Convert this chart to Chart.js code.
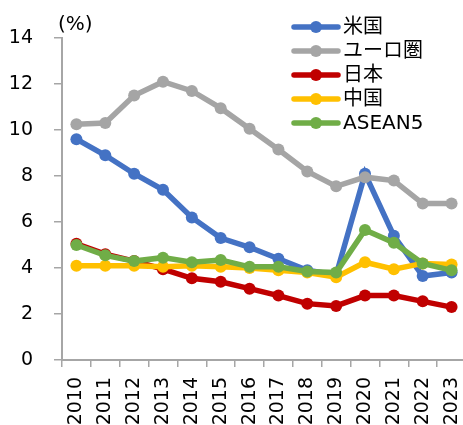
<!DOCTYPE html>
<html>
<head>
<meta charset="utf-8">
<script src="https://cdn.jsdelivr.net/npm/chart.js@4"></script>
<style>
html,body{margin:0;padding:0;background:#fff;overflow:hidden;}
canvas{display:block;}
</style>
</head>
<body>
<canvas id="c" width="466" height="425"></canvas>
<script>
const years = ['2010','2011','2012','2013','2014','2015','2016','2017','2018','2019','2020','2021','2022','2023'];
const seriesNames = ['米国','ユーロ圏','日本','中国','ASEAN5'];
const us    = [9.6, 8.9, 8.1, 7.4, 6.2, 5.3, 4.9, 4.4, 3.9, 3.7, 8.1, 5.4, 3.65, 3.8];
const euro  = [10.25, 10.3, 11.5, 12.1, 11.7, 10.95, 10.05, 9.15, 8.2, 7.55, 7.95, 7.8, 6.8, 6.8];
const japan = [5.05, 4.6, 4.3, 3.95, 3.55, 3.4, 3.1, 2.8, 2.45, 2.35, 2.8, 2.8, 2.55, 2.3];
const china = [4.1, 4.1, 4.1, 4.05, 4.1, 4.05, 4.0, 3.9, 3.8, 3.6, 4.25, 3.95, 4.2, 4.15];
const asean = [5.0, 4.55, 4.3, 4.45, 4.25, 4.35, 4.05, 4.05, 3.85, 3.8, 5.65, 5.1, 4.2, 3.9];
const yTicks = [0, 2, 4, 6, 8, 10, 12, 14];
const unitLabel = '(%)';

const colors = ['#4472C4', '#A5A5A5', '#C00000', '#FFC000', '#70AD47'];
const values = [us, euro, japan, china, asean];
const FONT = '"DejaVu Sans", "Noto Sans CJK JP", sans-serif';
const axisColor = '#A6A6A6';

const datasets = values.map((v, i) => ({
  label: seriesNames[i],
  data: v,
  borderColor: colors[i],
  backgroundColor: colors[i],
  borderWidth: 5.5,
  pointRadius: 6,
  pointBorderWidth: 0,
  pointBackgroundColor: colors[i],
  tension: 0,
  clip: false,
  order: values.length - 1 - i
}));

const legendPlugin = {
  id: 'customLegend',
  afterDraw(chart) {
    const ctx = chart.ctx;
    ctx.save();
    chart.data.datasets.forEach((ds, i) => {
      const y = 27 + i * 24;
      ctx.strokeStyle = ds.borderColor;
      ctx.lineWidth = 5.5;
      ctx.lineCap = 'round';
      ctx.beginPath();
      ctx.moveTo(294, y);
      ctx.lineTo(338, y);
      ctx.stroke();
      ctx.fillStyle = ds.borderColor;
      ctx.beginPath();
      ctx.arc(316, y, 6, 0, Math.PI * 2);
      ctx.fill();
      ctx.fillStyle = '#000';
      ctx.font = '20px ' + FONT;
      ctx.textBaseline = 'middle';
      ctx.textAlign = 'left';
      ctx.fillText(ds.label, 343, y + 1);
    });
    ctx.font = '20px ' + FONT;
    ctx.fillStyle = '#000';
    ctx.textBaseline = 'middle';
    ctx.textAlign = 'left';
    ctx.fillText(unitLabel, 58, 25);
    ctx.restore();
  }
};

new Chart(document.getElementById('c'), {
  type: 'line',
  data: { labels: years, datasets },
  options: {
    responsive: false,
    animation: false,
    devicePixelRatio: 1,
    layout: { autoPadding: false, padding: { top: 38, right: 0, bottom: 0, left: 0 } },
    plugins: { legend: { display: false }, tooltip: { enabled: false } },
    scales: {
      x: {
        type: 'category',
        offset: true,
        afterFit(scale) {
          scale.height = 65;
          scale.paddingLeft = 0; scale.paddingRight = 0;
        },
        grid: {
          offset: true,
          drawOnChartArea: false,
          drawTicks: true,
          tickLength: 7,
          color: axisColor,
          lineWidth: 1.5
        },
        border: { display: true, color: axisColor, width: 2 },
        ticks: {
          autoSkip: false,
          maxRotation: 90,
          minRotation: 90,
          padding: 10,
          color: '#000',
          font: { family: FONT, size: 19 }
        }
      },
      y: {
        min: 0,
        max: 14,
        afterFit(scale) {
          scale.width = 62;
          scale.paddingTop = 0; scale.paddingBottom = 0;
        },
        afterBuildTicks(scale) { scale.ticks = yTicks.map(v => ({ value: v })); },
        grid: {
          drawOnChartArea: false,
          drawTicks: true,
          tickLength: 8,
          color: axisColor,
          lineWidth: 1.5
        },
        border: { display: true, color: axisColor, width: 2 },
        ticks: {
          padding: 21,
          color: '#000',
          font: { family: FONT, size: 19 }
        }
      }
    }
  },
  plugins: [legendPlugin]
});
</script>
</body>
</html>
